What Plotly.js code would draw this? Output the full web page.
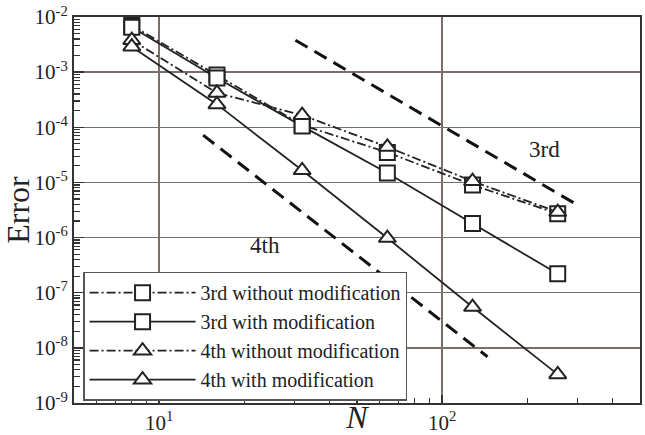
<!DOCTYPE html>
<html>
<head>
<meta charset="utf-8">
<script src="https://cdn.plot.ly/plotly-3.0.1.min.js"></script>
<style>html,body{margin:0;padding:0;background:#fff;}#chart{width:645px;height:435px;}</style>
</head>
<body>
<div id="chart"></div>
<script>
// Data
const N = [8, 16, 32, 64, 128, 256];
const err3rdWithout = [7.0e-3, 8.9e-4, 1.1e-4, 3.5e-5, 9.0e-6, 2.7e-6];
const err3rdWith    = [6.5e-3, 7.8e-4, 1.05e-4, 1.48e-5, 1.8e-6, 2.2e-7];
const err4thWithout = [3.8e-3, 4.2e-4, 1.66e-4, 4.4e-5, 1.05e-5, 2.9e-6];
const err4thWith    = [2.9e-3, 2.6e-4, 1.66e-5, 9.8e-7, 5.5e-8, 3.3e-9];
// slope reference lines
const ref3rdN = [30.3, 301];
const ref3rdE = [3.8e-3, 3.8e-3 * Math.pow(30.3 / 301, 3)];
const ref4thN = [14.3, 144.6];
const ref4thE = [7.2e-5, 7.2e-5 * Math.pow(14.3 / 144.6, 4)];
const legendNames = ['3rd without modification', '3rd with modification', '4th without modification', '4th with modification'];
const yTickVals = [1e-9, 1e-8, 1e-7, 1e-6, 1e-5, 1e-4, 1e-3, 1e-2];
const yTickText = ['10<sup>-9</sup>', '10<sup>-8</sup>', '10<sup>-7</sup>', '10<sup>-6</sup>', '10<sup>-5</sup>', '10<sup>-4</sup>', '10<sup>-3</sup>', '10<sup>-2</sup>'];
const xTickVals = [10, 100];
const xTickText = ['10<sup>1</sup>', '10<sup>2</sup>'];
const minorMultipliers = [2, 3, 4, 5, 6, 7, 8, 9];

const yMinor = [];
for (let e = -9; e < -2; e++) minorMultipliers.forEach(m => yMinor.push(m * Math.pow(10, e)));
const xMinor = [];
for (let e = 0; e < 3; e++) minorMultipliers.forEach(m => { const v = m * Math.pow(10, e); if (v > 5 && v < 500) xMinor.push(v); });

const serif = 'Liberation Serif, Times New Roman, serif';
const mk = (sym) => ({symbol: sym, size: 15, color: '#fff', line: {color: '#222', width: 2}});

const traces = [
  {x: N, y: err3rdWithout, name: legendNames[0], mode: 'lines+markers', line: {color: '#222', width: 1.8, dash: '9px,3px,2px,3px'}, marker: mk('square')},
  {x: N, y: err3rdWith, name: legendNames[1], mode: 'lines+markers', line: {color: '#222', width: 1.8}, marker: mk('square')},
  {x: N, y: err4thWithout, name: legendNames[2], mode: 'lines+markers', line: {color: '#222', width: 1.8, dash: '9px,3px,2px,3px'}, marker: mk('triangle-up')},
  {x: N, y: err4thWith, name: legendNames[3], mode: 'lines+markers', line: {color: '#222', width: 1.8}, marker: mk('triangle-up')},
  {x: ref3rdN, y: ref3rdE, mode: 'lines', showlegend: false, line: {color: '#111', width: 3, dash: '14px,8px'}},
  {x: ref4thN, y: ref4thE, mode: 'lines', showlegend: false, line: {color: '#111', width: 3, dash: '14px,8px'}},
  {x: [10], y: [1e-5], xaxis: 'x2', yaxis: 'y2', mode: 'markers', marker: {opacity: 0}, showlegend: false, hoverinfo: 'skip'}
];

const axisBase = {
  type: 'log', zeroline: false,
  showgrid: true, gridcolor: '#7a6e6a', gridwidth: 1.5,
  showline: true, linecolor: '#333', linewidth: 2, mirror: true,
  ticks: 'inside', tickwidth: 1.5, tickcolor: '#333',
  tickfont: {family: serif, size: 21, color: '#222'}
};

const layout = {
  width: 645, height: 435,
  margin: {l: 74, r: 5, t: 17, b: 32},
  paper_bgcolor: '#fff', plot_bgcolor: '#fff',
  font: {family: serif, color: '#222', size: 20},
  showlegend: true,
  legend: {
    x: 0.016, y: 0.006, xanchor: 'left', yanchor: 'bottom',
    bgcolor: '#fff', bordercolor: '#555', borderwidth: 1.5,
    font: {family: serif, size: 20, color: '#222'},
    itemwidth: 106, tracegroupgap: 0
  },
  xaxis: Object.assign({}, axisBase, {
    range: [Math.log10(5), Math.log10(500)],
    tickvals: xTickVals, ticktext: xTickText, ticklen: 8,
    title: {text: '<i>N</i>', font: {family: serif, size: 32, color: '#222'}, standoff: 0}
  }),
  yaxis: Object.assign({}, axisBase, {
    range: [-9, -2],
    tickvals: yTickVals, ticktext: yTickText, ticklen: 10,
    title: {text: 'Error', font: {family: serif, size: 32, color: '#222'}, standoff: 2}
  }),
  xaxis2: {
    type: 'log', overlaying: 'x', anchor: 'y2', side: 'bottom',
    range: [Math.log10(5), Math.log10(500)],
    tickvals: xMinor, showticklabels: false, ticks: 'inside', ticklen: 5, tickwidth: 1.2, tickcolor: '#333',
    showgrid: false, zeroline: false, showline: false
  },
  yaxis2: {
    type: 'log', overlaying: 'y', anchor: 'x2', side: 'left',
    range: [-9, -2],
    tickvals: yMinor, showticklabels: false, ticks: 'inside', ticklen: 6, tickwidth: 1.2, tickcolor: '#333',
    showgrid: false, zeroline: false, showline: false
  },
  annotations: [
    {x: Math.log10(229), y: Math.log10(3.9e-5), xref: 'x', yref: 'y', text: '3rd', showarrow: false, font: {family: serif, size: 23, color: '#222'}},
    {x: Math.log10(23.6), y: Math.log10(7.2e-7), xref: 'x', yref: 'y', text: '4th', showarrow: false, font: {family: serif, size: 23, color: '#222'}}
  ]
};

Plotly.newPlot('chart', traces, layout, {staticPlot: true, displayModeBar: false});
</script>
</body>
</html>
